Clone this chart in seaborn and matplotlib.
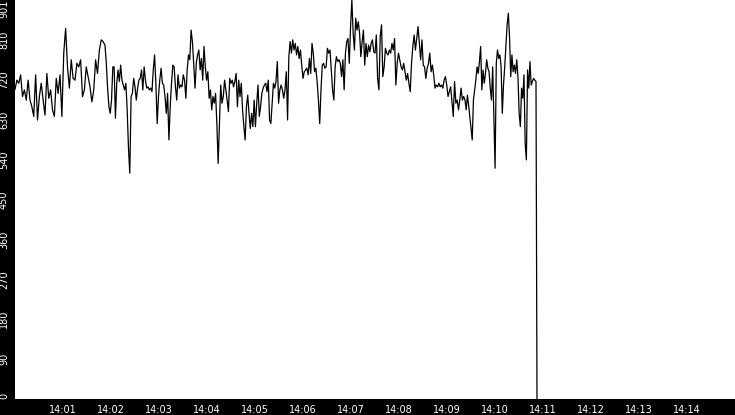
import numpy as np
import pandas as pd
import matplotlib
matplotlib.use("Agg")
import matplotlib.pyplot as plt
import matplotlib.dates as mdates
import seaborn as sns

# ---- data: readings, grouped in consecutive sampling segments ----
seg1 = [699, 720, 713, 732, 683, 698, 675, 720, 675, 660,
        638, 732, 630, 683, 713, 675, 641, 735, 679, 698,
        653, 638, 724, 690, 732, 638, 781, 837, 750, 702,
        766, 724, 720, 758, 750, 766, 683, 698, 750, 728,
        705, 671, 698, 766, 735, 788, 811, 807]
seg2 = [799, 758, 702, 660, 645, 675, 750, 750, 634, 713,
        743, 717, 754, 720, 709, 698, 713, 653, 566, 510,
        683, 690, 724, 705, 675, 702, 720, 724, 743, 698,
        750, 720, 702, 705, 698, 702, 694, 743, 777, 713,
        622, 683, 720, 747, 713, 709, 683, 645, 690, 585,
        660, 713, 754, 750, 705, 675, 732, 702, 709, 705,
        732, 720, 679, 743, 777, 766, 833, 807, 758]
seg3 = [702, 758, 777, 788, 743, 769, 720, 796, 750, 720,
        739, 679, 698, 653, 683, 668, 690, 622, 532, 622,
        709, 668, 683, 720, 698, 675, 649, 724, 713, 720,
        705, 717, 735, 660, 720, 683, 713, 653, 615, 585,
        660, 686, 645, 611, 645, 615, 675, 615, 668, 709,
        638, 660, 690, 702, 709, 713, 694, 720, 630, 622,
        668, 713, 702, 717, 762, 668, 698, 709, 698, 679]
seg4 = [698, 739, 630, 773, 807, 781, 811, 788, 803, 777,
        796, 769, 788, 754, 724, 739, 743, 747, 732, 769,
        735, 803, 781, 739, 747, 717, 675, 622, 698, 754,
        758, 747, 750, 792, 781, 788, 743, 698, 675, 750,
        773, 762, 766, 758, 728, 766, 698, 781, 807, 814,
        758, 841, 901, 826, 788, 860, 833, 852, 826, 773,
        807, 833, 754, 803, 773, 799, 784, 803, 811, 784]
seg5 = [781, 822, 724, 698, 818, 845, 728, 750, 792, 781,
        777, 788, 781, 803, 788, 814, 709, 758, 781, 766,
        750, 743, 758, 739, 720, 735, 713, 694, 758, 796,
        822, 788, 814, 841, 803, 766, 811, 754, 750, 724,
        747, 758, 781, 739, 754, 732, 702, 709, 705, 713,
        705, 709, 702, 720, 728, 709, 683, 694, 705, 671,
        638, 717, 668, 675, 653, 675, 702, 675, 683]
seg6 = [675, 653, 686, 664, 638, 611, 585, 675, 698, 720,
        750, 735, 762, 796, 698, 743, 713, 735, 766, 747,
        739, 702, 675, 750, 638, 521, 758, 788, 769, 777,
        750, 645, 709, 750, 796, 845, 871, 818, 728, 777,
        739, 754, 735, 766, 728, 645, 615, 702, 679, 732,
        577, 540, 743, 702, 762, 709, 717, 724, 720, 717]
tail_values = [360, 0]
tail_seconds = [651.9, 652.5]

# segment time spans in seconds after 14:00:00
seg_spans = [(0.0, 112.5), (112.5, 225.0), (225.0, 337.5),
             (337.5, 450.0), (450.0, 562.5), (562.5, 651.25)]
segments = [seg1, seg2, seg3, seg4, seg5, seg6]

y_ticks = [0, 90, 180, 270, 360, 450, 540, 630, 720, 810, 901]
x_tick_labels = ["14:01", "14:02", "14:03", "14:04", "14:05", "14:06", "14:07",
                 "14:08", "14:09", "14:10", "14:11", "14:12", "14:13", "14:14"]

base = pd.Timestamp("2024-01-01 14:00:00")
secs = []
vals = []
for (s0, s1), seg in zip(seg_spans, segments):
    last = seg is seg6
    secs.extend(np.linspace(s0, s1, len(seg), endpoint=last))
    vals.extend(seg)
secs.extend(tail_seconds)
vals.extend(tail_values)

df = pd.DataFrame({"time": base + pd.to_timedelta(secs, unit="s"), "value": vals})

# ---- figure ----
sns.set_style("white")
plt.rcParams["font.family"] = ["DejaVu Sans"]

fig = plt.figure(figsize=(7.35, 4.15), dpi=100, facecolor="black")
ax = fig.add_axes([15 / 735, 16 / 415, 720 / 735, 399 / 415])
ax.set_facecolor("white")

sns.lineplot(data=df, x="time", y="value", color="black", lw=0.9, ax=ax)

ax.set_xlim(base, base + pd.Timedelta(minutes=15))
ax.set_ylim(0, 901)
xt = [base + pd.Timedelta(minutes=i + 1) for i in range(len(x_tick_labels))]
ax.set_xticks(xt)
ax.set_xticklabels(x_tick_labels)
ax.set_yticks(y_ticks)
ax.set_yticklabels([str(v) for v in y_ticks], rotation=90)

for sp in ax.spines.values():
    sp.set_visible(False)

ax.tick_params(axis="both", colors="white", labelcolor="white", labelsize=7,
               length=3.6, width=1, direction="out")
ax.tick_params(axis="y", pad=0.8)
ax.tick_params(axis="x", pad=0.6)
ax.set_xlabel("")
ax.set_ylabel("")
ax.grid(False)

labels = ax.get_yticklabels()
for lab in labels:
    lab.set_va("center")
labels[0].set_va("bottom")
labels[-1].set_va("top")

fig.savefig("out.png", dpi=100, facecolor="black")
